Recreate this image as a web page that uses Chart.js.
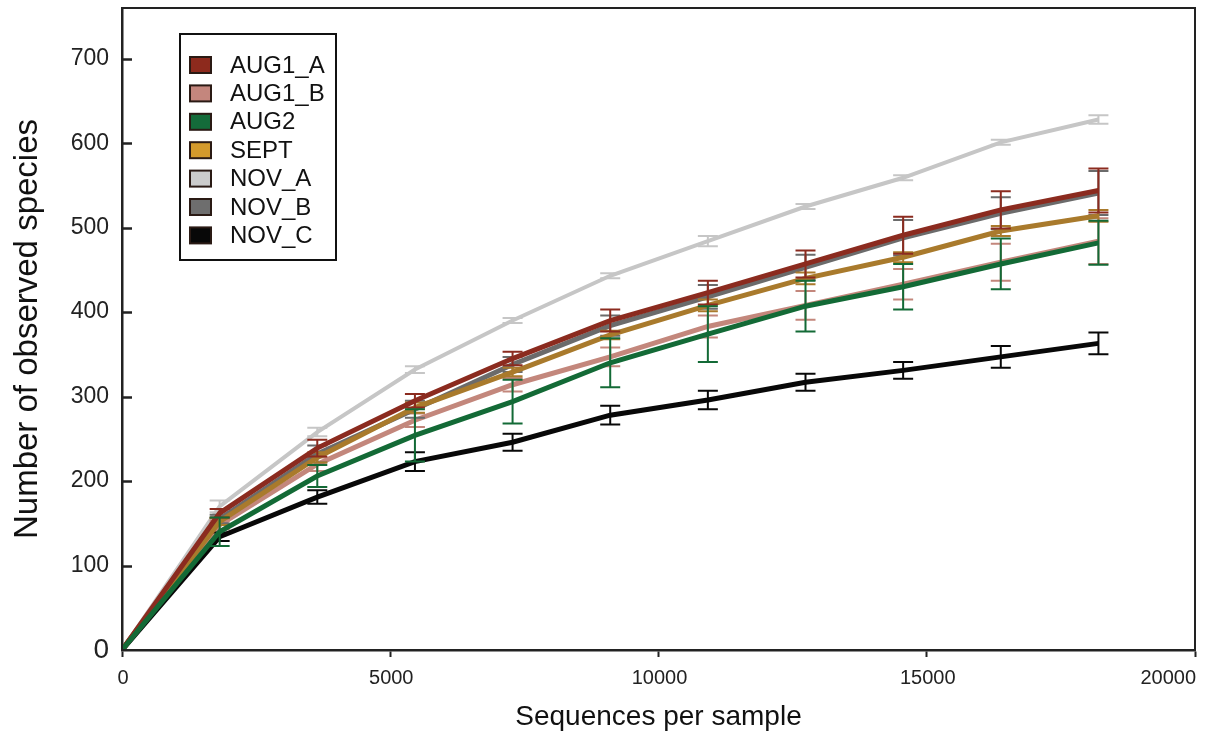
<!DOCTYPE html>
<html>
<head>
<meta charset="utf-8">
<script src="https://cdn.jsdelivr.net/npm/chart.js@4.4.1/dist/chart.umd.min.js"></script>
<style>
  html, body { margin: 0; padding: 0; background: #fff; }
  #wrap { position: relative; width: 1205px; height: 738px; }
</style>
</head>
<body>
<div id="wrap"><canvas id="rarefaction"></canvas></div>
<script>
'use strict';

// sequences per sample (rarefaction depths)
const depths = [0, 1820, 3640, 5460, 7280, 9100, 10920, 12740, 14560, 16380, 18200];

const sampleNames = ['AUG1_A', 'AUG1_B', 'AUG2', 'SEPT', 'NOV_A', 'NOV_B', 'NOV_C'];

// mean observed species
const aug1A = [0, 162, 239, 295, 345, 390, 423, 457, 491, 521, 544];
const aug1B = [0, 148, 220, 272, 314, 347, 383, 408, 433, 459, 484];
const aug2  = [0, 140, 206, 254, 294, 340, 374, 407, 430, 457, 482];
const sept  = [0, 152, 228, 287, 329, 373, 408, 440, 465, 496, 514];
const novA  = [0, 170, 258, 332, 390, 443, 484, 525, 559, 601, 628];
const novB  = [0, 155, 232, 285, 338, 384, 418, 453, 488, 517, 541];
const novC  = [0, 134, 181, 223, 246, 278, 296, 317, 331, 347, 363];

// error bar half-heights
const aug1AErr = [0, 5, 10, 8, 8, 13, 14, 16, 22, 22, 26];
const aug1BErr = [0, 5, 8, 8, 8, 11, 13, 17, 18, 22, 27];
const aug2Err  = [0, 17, 13, 31, 26, 29, 33, 30, 27, 30, 26];
const septErr  = [0, 4, 6, 6, 5, 5, 7, 7, 6, 6, 7];
const novAErr  = [0, 7, 5, 4, 3, 3, 6, 3, 3, 3, 5];
const novBErr  = [0, 5, 10, 10, 9, 12, 14, 15, 21, 19, 26];
const novCErr  = [0, 5, 8, 11, 10, 11, 11, 10, 10, 13, 13];

const xTicks = [0, 5000, 10000, 15000, 20000];
const yTicks = [0, 100, 200, 300, 400, 500, 600, 700];

const FONT = "'Liberation Sans', Arial, Helvetica, sans-serif";

function pts(values) {
  return values.map((v, i) => ({ x: depths[i], y: v }));
}

function series(name, values, errs, color, swatch, order, width) {
  return {
    label: name,
    data: pts(values),
    errors: errs,
    swatch: swatch,
    borderColor: color,
    backgroundColor: color,
    borderWidth: width,
    pointRadius: 0,
    tension: 0,
    order: order,
  };
}

// draws the vertical error bars right after each series so they stack with it
const errorBars = {
  id: 'errorBars',
  afterDatasetDraw(chart, args) {
    const ds = chart.data.datasets[args.index];
    if (!ds.errors) return;
    const xs = chart.scales.x, ys = chart.scales.y;
    const ctx = chart.ctx;
    ctx.save();
    ctx.strokeStyle = ds.borderColor;
    ctx.lineWidth = 2;
    ds.data.forEach((p, i) => {
      const e = ds.errors[i];
      if (!e) return;
      const px = xs.getPixelForValue(p.x);
      const top = ys.getPixelForValue(p.y + e);
      const bot = ys.getPixelForValue(p.y - e);
      ctx.beginPath();
      ctx.moveTo(px, top); ctx.lineTo(px, bot);
      ctx.moveTo(px - 10, top); ctx.lineTo(px + 10, top);
      ctx.moveTo(px - 10, bot); ctx.lineTo(px + 10, bot);
      ctx.stroke();
    });
    ctx.restore();
  },
};

// frame, inward y ticks, x tick labels and the boxed legend
const decorations = {
  id: 'decorations',
  afterDraw(chart) {
    const { ctx, chartArea: a } = chart;
    const ys = chart.scales.y, xs = chart.scales.x;
    ctx.save();
    ctx.strokeStyle = '#222';
    ctx.lineWidth = 2;
    ctx.strokeRect(a.left, a.top, a.right - a.left, a.bottom - a.top);

    ctx.lineWidth = 2.5;
    ys.ticks.forEach(t => {
      if (t.value === 0) return;
      const py = Math.round(ys.getPixelForValue(t.value)) + 0.5;
      ctx.beginPath();
      ctx.moveTo(a.left, py);
      ctx.lineTo(a.left + 10, py);
      ctx.stroke();
    });

    ctx.fillStyle = '#222';
    ctx.font = '20px ' + FONT;
    ctx.textBaseline = 'middle';
    xs.ticks.forEach((t, i) => {
      const px = xs.getPixelForValue(t.value);
      const last = i === xs.ticks.length - 1;
      ctx.textAlign = last ? 'right' : 'center';
      ctx.fillText(String(t.value), last ? a.right + 1 : px + 1, 678);
    });

    // legend box
    const lx = 180, ly = 34, lw = 156, lh = 226;
    ctx.lineWidth = 2;
    ctx.strokeStyle = '#111';
    ctx.strokeRect(lx, ly, lw, lh);
    ctx.font = '24px ' + FONT;
    ctx.textAlign = 'left';
    chart.data.datasets.forEach((ds, i) => {
      const cy = 65 + i * 28.4;
      ctx.fillStyle = ds.swatch;
      ctx.fillRect(190, cy - 8, 21, 16);
      ctx.strokeStyle = '#2a1a14';
      ctx.lineWidth = 2;
      ctx.strokeRect(190, cy - 8, 21, 16);
      ctx.fillStyle = '#111';
      ctx.fillText(ds.label, 230, cy + 1);
    });
    ctx.restore();
  },
};

new Chart(document.getElementById('rarefaction'), {
  type: 'line',
  data: {
    datasets: [
      series(sampleNames[0], aug1A, aug1AErr, '#8b2b1f', '#8d2a1d', 1, 5),
      series(sampleNames[1], aug1B, aug1BErr, '#c3877c', '#c4867d', 5, 5),
      series(sampleNames[2], aug2, aug2Err, '#136a36', '#146b3a', 0, 5),
      series(sampleNames[3], sept, septErr, '#a97a2c', '#d49a2c', 2, 5),
      series(sampleNames[4], novA, novAErr, '#c6c6c6', '#cccccc', 6, 4),
      series(sampleNames[5], novB, novBErr, '#6b6b6b', '#6e6e6e', 4, 5),
      series(sampleNames[6], novC, novCErr, '#080808', '#080808', 3, 5),
    ],
  },
  options: {
    responsive: true,
    maintainAspectRatio: false,
    animation: false,
    layout: { padding: { top: 8, right: 10, left: 0, bottom: 0 } },
    plugins: {
      legend: { display: false },
      tooltip: { enabled: false },
    },
    scales: {
      x: {
        type: 'linear',
        min: 0,
        max: 20000,
        afterBuildTicks: s => { s.ticks = xTicks.map(v => ({ value: v })); },
        afterFit: s => { s.height = 88; s.paddingLeft = 0; s.paddingRight = 0; },
        ticks: { display: false },
        grid: { drawOnChartArea: false, drawTicks: true, tickLength: 7, tickWidth: 2, tickColor: '#222' },
        border: { display: true, color: '#222', width: 2.5 },
        title: {
          display: true,
          text: 'Sequences per sample',
          color: '#111',
          font: { family: FONT, size: 28 },
          padding: { top: 0, bottom: 4 },
        },
      },
      y: {
        min: 0,
        max: 760,
        afterBuildTicks: s => { s.ticks = yTicks.map(v => ({ value: v })); },
        afterFit: s => { s.width = 122; s.paddingTop = 0; s.paddingBottom = 0; },
        ticks: {
          color: '#222',
          padding: 13,
          font: c => ({ family: FONT, size: c.tick && c.tick.value === 0 ? 28 : 23 }),
        },
        grid: { drawOnChartArea: false, drawTicks: false },
        border: { display: true, color: '#222', width: 2.5 },
        title: {
          display: true,
          text: 'Number of observed species',
          color: '#111',
          font: { family: FONT, size: 33 },
          padding: { top: 8, bottom: 0 },
        },
      },
    },
  },
  plugins: [errorBars, decorations],
});
</script>
</body>
</html>
